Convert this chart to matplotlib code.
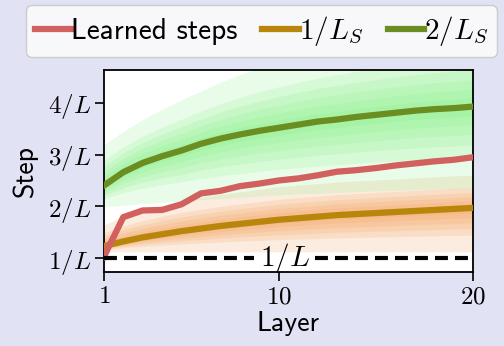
import matplotlib
matplotlib.use("Agg")
import matplotlib.pyplot as plt
import numpy as np

plt.rcParams['mathtext.fontset'] = 'cm'
plt.rcParams['font.family'] = ['cmss10', 'DejaVu Sans']
plt.rcParams['axes.unicode_minus'] = False

###############################################################################
# values, in units of 1/L

layers = np.arange(1, 21)

learned = [1.02, 1.79, 1.92, 1.93, 2.04, 2.25, 2.30, 2.39, 2.44, 2.50,
           2.54, 2.60, 2.67, 2.70, 2.74, 2.79, 2.83, 2.87, 2.90, 2.95]

one_ls = [1.23, 1.32, 1.40, 1.46, 1.52, 1.57, 1.62, 1.66, 1.70, 1.74,
          1.77, 1.80, 1.83, 1.85, 1.87, 1.89, 1.91, 1.93, 1.95, 1.97]
one_ls_lo = [1.12, 1.12, 1.12, 1.12, 1.12, 1.12, 1.12, 1.12, 1.12, 1.12,
             1.12, 1.12, 1.12, 1.12, 1.12, 1.12, 1.12, 1.12, 1.12, 1.12]
one_ls_hi = [1.64, 1.80, 1.92, 2.02, 2.10, 2.17, 2.23, 2.28, 2.33, 2.38,
             2.41, 2.44, 2.47, 2.49, 2.51, 2.53, 2.55, 2.57, 2.59, 2.60]

two_ls = [2.40, 2.66, 2.84, 2.97, 3.08, 3.21, 3.31, 3.39, 3.46, 3.52,
          3.58, 3.64, 3.68, 3.73, 3.77, 3.81, 3.85, 3.88, 3.90, 3.93]
two_ls_lo = [1.99, 2.02, 2.05, 2.08, 2.10, 2.13, 2.15, 2.17, 2.20, 2.22,
             2.24, 2.25, 2.27, 2.28, 2.30, 2.31, 2.32, 2.33, 2.34, 2.35]
two_ls_hi = [3.19, 3.45, 3.68, 3.88, 4.06, 4.23, 4.40, 4.55, 4.68, 4.80,
             4.90, 5.00, 5.08, 5.15, 5.22, 5.28, 5.33, 5.38, 5.42, 5.46]

# nested quantile bands, as fraction of the outer band
band_levels = [1.0, 0.62, 0.47, 0.34, 0.22, 0.11]

yticks = [1, 2, 3, 4]
ytick_labels = ['$1/L$', '$2/L$', '$3/L$', '$4/L$']
xticks = [1, 10, 20]
xtick_labels = ['$1$', '$10$', '$20$']

###############################################################################

fig = plt.figure(figsize=(5.04, 3.46), dpi=100, facecolor='#e1e2f4')
ax = fig.add_axes([0.206, 0.214, 0.7325, 0.584])
ax.set_facecolor('white')


def bands(ax, med, lo, hi, color, alpha):
    med, lo, hi = np.array(med), np.array(lo), np.array(hi)
    for f in band_levels:
        ax.fill_between(layers, med - f * (med - lo), med + f * (hi - med),
                        color=color, alpha=alpha, lw=0)


bands(ax, one_ls, one_ls_lo, one_ls_hi, '#f4a460', 0.2)
bands(ax, two_ls, two_ls_lo, two_ls_hi, '#7ef07e', 0.17)

ax.plot(layers, one_ls, color='#b8860b', lw=4.5, label='$1/L_S$', zorder=3)
ax.plot(layers, two_ls, color='#6b8e23', lw=4.5, label='$2/L_S$', zorder=3)
ax.plot(layers, learned, color='#d1605e', lw=4.5, label='Learned steps',
        zorder=4)

# 1/L reference with inline label
lab_x, gap = 10.3, 1.55
ax.plot([1, lab_x - gap], [1, 1], color='k', lw=3, dashes=(3.1, 1.7),
        zorder=5)
ax.plot([lab_x + gap, 20], [1, 1], color='k', lw=3, dashes=(3.1, 1.7),
        zorder=5)
ax.text(lab_x, 1.0, '$1/L$', ha='center', va='center', fontsize=21,
        zorder=6)

ax.set_xlim(1, 20)
ax.set_ylim(0.73, 4.64)
ax.set_xticks(xticks)
ax.set_xticklabels(xtick_labels)
ax.set_yticks(yticks)
ax.set_yticklabels(ytick_labels)
ax.tick_params(direction='out', length=6.5, width=1.2, labelsize=18, pad=3)
for s in ax.spines.values():
    s.set_linewidth(1.3)
ax.set_xlabel('Layer', fontsize=20, labelpad=2)
ax.set_ylabel('Step', fontsize=20, labelpad=7)

h, l = ax.get_legend_handles_labels()
order = [2, 0, 1]
leg = fig.legend([h[i] for i in order], [l[i] for i in order],
                 loc='upper left', bbox_to_anchor=(26 / 504, 1 - 5 / 346),
                 ncol=3, fontsize=21, handlelength=1.25, handletextpad=0.0,
                 columnspacing=0.85, borderpad=0.3, borderaxespad=0,
                 frameon=True, fancybox=True, framealpha=1)
leg.get_frame().set_facecolor('#f8f8fb')
leg.get_frame().set_edgecolor('#cccccc')

fig.savefig('out.png', dpi=100, facecolor=fig.get_facecolor())
